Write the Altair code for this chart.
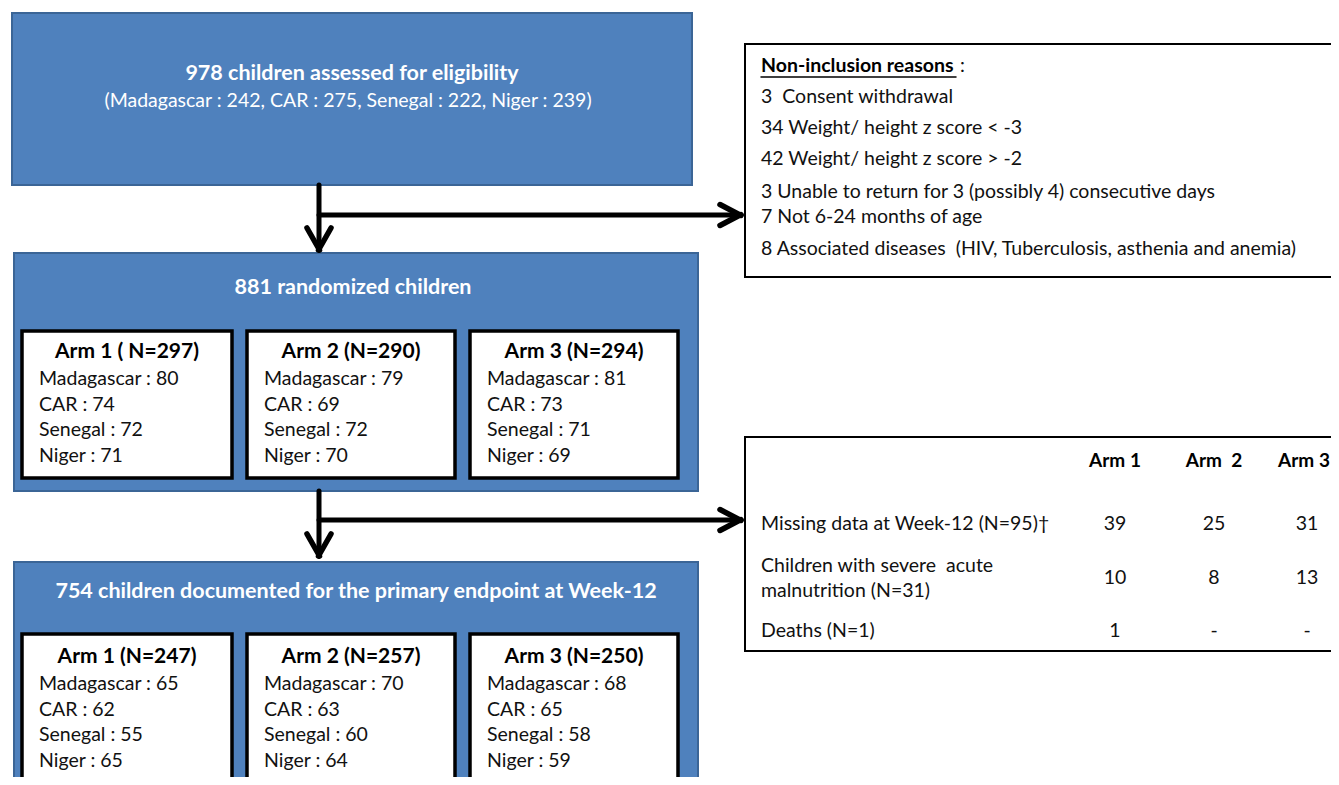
import altair as alt
import pandas as pd

# ---------------- content ----------------
NB = "\u00a0"
top_title = "978 children assessed for eligibility"
top_sub = "(Madagascar : 242, CAR : 275, Senegal : 222, Niger : 239)"
rand_title = "881 randomized children"
end_title = "754 children documented for the primary endpoint at Week-12"

countries = ["Madagascar", "CAR", "Senegal", "Niger"]
rand_heads = ["Arm 1 ( N=297)", "Arm 2 (N=290)", "Arm 3 (N=294)"]
rand_counts = [[80, 74, 72, 71], [79, 69, 72, 70], [81, 73, 71, 69]]
end_heads = ["Arm 1 (N=247)", "Arm 2 (N=257)", "Arm 3 (N=250)"]
end_counts = [[65, 62, 55, 65], [70, 63, 60, 64], [68, 65, 58, 59]]

noninc_title = "Non-inclusion reasons"
noninc_lines = [
    "3" + NB + " Consent withdrawal",
    "34 Weight/ height z score < -3",
    "42 Weight/ height z score > -2",
    "3 Unable to return for 3 (possibly 4) consecutive days",
    "7 Not 6-24 months of age",
    "8 Associated diseases" + NB + " (HIV, Tuberculosis, asthenia and anemia)",
]

table_cols = ["Arm 1", "Arm" + NB + " 2", "Arm 3"]
table_rows = [["Missing data at Week-12 (N=95)\u2020"],
              ["Children with severe" + NB + " acute", "malnutrition (N=31)"],
              ["Deaths (N=1)"]]
table_vals = [["39", "25", "31"], ["10", "8", "13"], ["1", "-", "-"]]

# ---------------- layout (pixel geometry) ----------------
BLUE = "#4F81BD"
BLUE_EDGE = "#3B6596"
FONT = "Lato"

xs = alt.Scale(domain=[8, 1331], range=[0, 1323], nice=False, zero=False)
ys = alt.Scale(domain=[8, 777], range=[0, 769], nice=False, zero=False)

rects = []
def rect(x, x2, y, y2, fill, stroke, sw):
    rects.append(dict(x=x, x2=x2, y=y, y2=y2, fill=fill, stroke=stroke, sw=sw))

rect(12, 692, 13, 185, BLUE, BLUE_EDGE, 2)
rect(14, 698, 253, 491, BLUE, BLUE_EDGE, 2)
rect(14, 698, 562, 800, BLUE, BLUE_EDGE, 2)
arm_x = [(22, 232), (247, 455), (470, 678)]
for (a, b) in arm_x:
    rect(a, b, 331, 478, "white", "black", 3.5)
    rect(a, b, 634, 800, "white", "black", 3.5)
rect(745, 1345, 44, 277, "white", "black", 2)
rect(745, 1345, 437, 651, "white", "black", 2)
rect_df = pd.DataFrame(rects)

texts = []
def txt(x, y, t, style):
    texts.append(dict(x=x, y=y, t=t, style=style))

txt(352, 74, top_title, "wb")
txt(348, 101, top_sub, "wr")
txt(353, 288, rand_title, "wb")
txt(356, 592, end_title, "wb")
line_dy = [0, 25.5, 51, 76.5]
for i, (a, b) in enumerate(arm_x):
    cx = (a + b) / 2
    txt(cx, 352, rand_heads[i], "kh")
    txt(cx, 657, end_heads[i], "kh")
    lx = a + 17
    for j, c in enumerate(countries):
        txt(lx, 379 + line_dy[j], f"{c} : {rand_counts[i][j]}", "kl")
        txt(lx, 684 + line_dy[j], f"{c} : {end_counts[i][j]}", "kl")

txt(761, 66, noninc_title, "kbl")
txt(960, 66, ":", "kl")
ny = [97, 128, 159, 192, 217, 249]
for j, l in enumerate(noninc_lines):
    txt(761, ny[j], l, "kl")

col_x = [1115, 1214, 1304]
for k, c in enumerate(table_cols):
    txt(col_x[k], 461, c, "kb")
row_y = [524, 578, 631]
for r, lines in enumerate(table_rows):
    if len(lines) == 1:
        txt(761, row_y[r], lines[0], "kl")
    else:
        txt(761, row_y[r] - 12.5, lines[0], "kl")
        txt(761, row_y[r] + 12.5, lines[1], "kl")
    for k in range(3):
        txt(col_x[k] + (3 if k == 2 else 0), row_y[r], table_vals[r][k], "kc")
text_df = pd.DataFrame(texts)

segs = []
def seg(x, y, x2, y2, w):
    segs.append(dict(x=x, y=y, x2=x2, y2=y2, w=w))

for (yt, yb, yh) in [(185, 249, 215), (491, 555, 520)]:
    seg(319, yt, 319, yb, 5)
    seg(319, yh, 739, yh, 5)
    seg(307, yb - 21, 319.5, yb + 1, 5.5)
    seg(331, yb - 21, 318.5, yb + 1, 5.5)
    seg(720, yh - 10.5, 741, yh + 0.5, 5.5)
    seg(720, yh + 10.5, 741, yh - 0.5, 5.5)
seg(761, 77, 956, 77, 1.5)  # underline of title
seg_df = pd.DataFrame(segs)

X = lambda f: alt.X(f"{f}:Q", scale=xs, axis=None)
Y = lambda f: alt.Y(f"{f}:Q", scale=ys, axis=None)

rect_layer = alt.Chart(rect_df).mark_rect(clip=True).encode(
    x=X("x"), x2="x2", y=Y("y"), y2="y2",
    fill=alt.Fill("fill:N", scale=None),
    stroke=alt.Stroke("stroke:N", scale=None),
    strokeWidth=alt.StrokeWidth("sw:Q", scale=None),
)

seg_layer = alt.Chart(seg_df).mark_rule(color="black", strokeCap="round", clip=True).encode(
    x=X("x"), x2="x2", y=Y("y"), y2="y2",
    strokeWidth=alt.StrokeWidth("w:Q", scale=None),
)

styles = {
    "wb": dict(color="white", fontWeight="bold", align="center", fontSize=21.5),
    "wr": dict(color="white", fontWeight="normal", align="center", fontSize=19.5),
    "kh": dict(color="black", fontWeight="bold", align="center", fontSize=21),
    "kb": dict(color="black", fontWeight="bold", align="center", fontSize=19),
    "kbl": dict(color="black", fontWeight="bold", align="left", fontSize=19.5),
    "kl": dict(color="#111111", fontWeight="normal", align="left", fontSize=19.5),
    "kc": dict(color="#111111", fontWeight="normal", align="center", fontSize=19.5),
}
text_layers = []
for s, kw in styles.items():
    sub = text_df[text_df["style"] == s]
    text_layers.append(
        alt.Chart(sub).mark_text(font=FONT, baseline="middle", **kw).encode(
            x=X("x"), y=Y("y"), text="t:N"
        )
    )

chart = alt.layer(rect_layer, seg_layer, *text_layers).properties(
    width=1323, height=769, padding=0, autosize="none"
).configure_view(stroke=None)

chart.save("out.html", embed_options={"renderer": "svg", "actions": False})
